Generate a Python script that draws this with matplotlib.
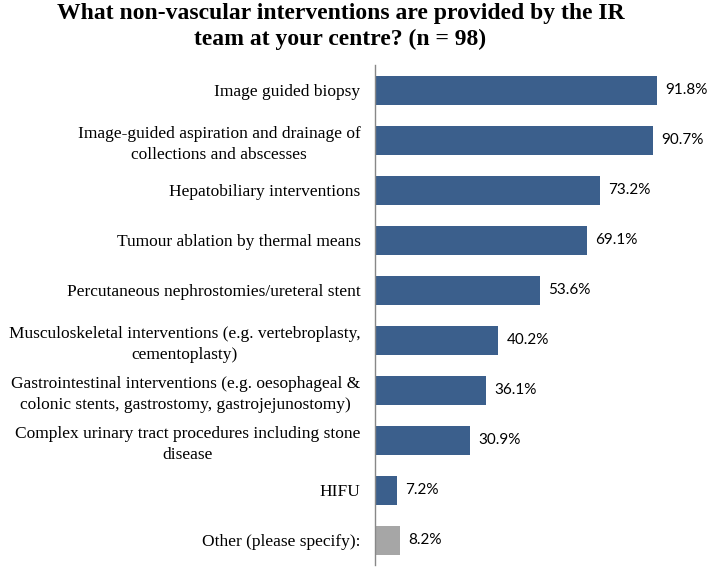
import matplotlib.pyplot as plt

# Survey answers, top to bottom as drawn
categories = [
    "Image guided biopsy",
    "Image-guided aspiration and drainage of\ncollections and abscesses",
    "Hepatobiliary interventions",
    "Tumour ablation by thermal means",
    "Percutaneous nephrostomies/ureteral stent",
    "Musculoskeletal interventions (e.g. vertebroplasty,\ncementoplasty)",
    "Gastrointestinal interventions (e.g. oesophageal &\ncolonic stents, gastrostomy, gastrojejunostomy)",
    "Complex urinary tract procedures including stone\ndisease",
    "HIFU",
    "Other (please specify):",
]
percent = [91.8, 90.7, 73.2, 69.1, 53.6, 40.2, 36.1, 30.9, 7.2, 8.2]
bar_colors = ["#3b5f8c"] * 9 + ["#a6a6a6"]

plt.rcParams['font.family'] = ['Liberation Serif', 'DejaVu Serif']

fig = plt.figure(figsize=(7.09, 5.71), dpi=100)
ax = fig.add_axes([0.529, 0.0105, 0.471, 0.8755])

ypos = list(range(len(categories)))
ax.barh(ypos, percent, height=0.58, color=bar_colors)
ax.set_ylim(len(categories) - 0.5, -0.5)
ax.set_xlim(0, 108.8)

ax.set_yticks(ypos)
ax.set_yticklabels(categories, fontsize=12.5, linespacing=1.4)
for lbl in ax.get_yticklabels():
    lbl.set_multialignment('center')
ax.tick_params(axis='y', length=0, pad=10.5)
ax.set_xticks([])

for s in ['top', 'right', 'bottom']:
    ax.spines[s].set_visible(False)
ax.spines['left'].set_color('#888888')
ax.spines['left'].set_linewidth(1.0)

# value labels
for i, v in enumerate(percent):
    ax.text(v + 2.7, i, f"{v:.1f}%", va='center', ha='left', fontsize=11,
            family=['Lato', 'Liberation Sans', 'DejaVu Sans'])

fig.text(0.48, 0.995,
         "What non-vascular interventions are provided by the IR\nteam at your centre? (n = 98)",
         ha='center', va='top', fontsize=17, fontweight='bold', linespacing=1.3)

fig.savefig("out.png", dpi=100)
